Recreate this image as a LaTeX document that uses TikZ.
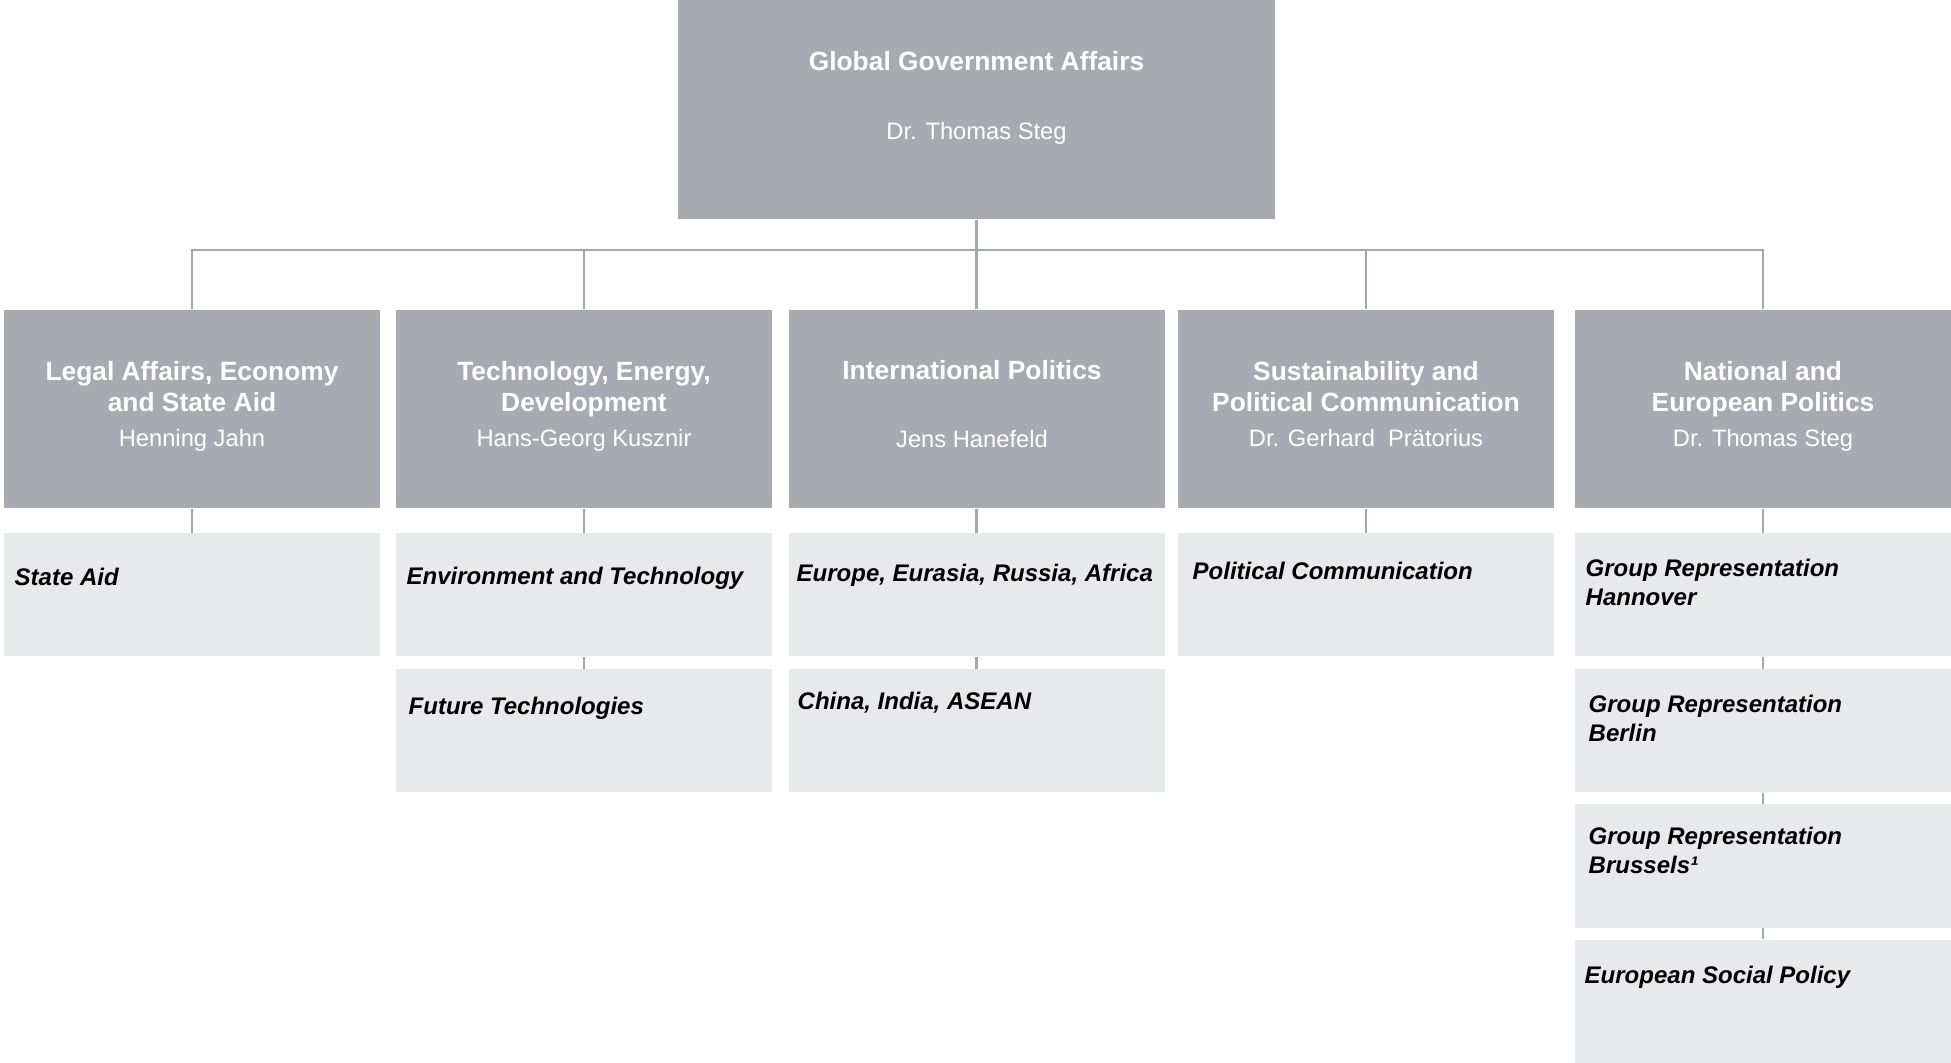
\documentclass[tikz,border=0pt]{standalone}
\usepackage{fontspec}
\setmainfont{Liberation Sans}
\definecolor{headgray}{HTML}{A7AAB0}
\definecolor{unitgray}{HTML}{E8E9EB}
\definecolor{linegray}{HTML}{A3A6AC}

\begin{document}
\begin{tikzpicture}[
    head/.style={fill=headgray, minimum width=3.76cm, minimum height=1.98cm, inner sep=0pt},
    unit/.style={fill=unitgray, minimum width=3.76cm, minimum height=1.23cm, inner sep=0pt},
    headtitle/.style={anchor=north, align=center, text=white, inner sep=0pt, font=\fontsize{7.5}{8.8}\selectfont\bfseries},
    headname/.style={anchor=north, text=white, inner sep=0pt, font=\fontsize{6.75}{8}\selectfont},
    unittext/.style={anchor=north west, align=left, inner sep=0pt, font=\fontsize{6.83}{8.4}\selectfont\bfseries\itshape},
    link/.style={draw=linegray, line width=0.6pt}
]
    \useasboundingbox (0,0) rectangle (19.51,-10.63);

    \node[head, minimum width=5.97cm, minimum height=2.19cm] (gga) at (9.765,-1.095) {};
    \node[headtitle] (gga-title) at (9.765,-0.51) {Global Government Affairs};
    \node[headname] (gga-name) at (9.765,-1.22) {Dr. Thomas Steg};

    \node[head] (legal) at (1.92,-4.09) {};
    \node[headtitle] (legal-title) at (1.92,-3.61) {Legal Affairs, Economy\\and State Aid};
    \node[headname] (legal-name) at (1.92,-4.29) {Henning Jahn};

    \node[head] (tech) at (5.84,-4.09) {};
    \node[headtitle] (tech-title) at (5.84,-3.61) {Technology, Energy,\\Development};
    \node[headname] (tech-name) at (5.84,-4.29) {Hans-Georg Kusznir};

    \node[head] (intl) at (9.765,-4.09) {};
    \node[headtitle] (intl-title) at (9.72,-3.60) {International Politics};
    \node[headname] (intl-name) at (9.72,-4.30) {Jens Hanefeld};

    \node[head] (sust) at (13.66,-4.09) {};
    \node[headtitle] (sust-title) at (13.66,-3.61) {Sustainability and\\Political Communication};
    \node[headname] (sust-name) at (13.66,-4.29) {Dr. Gerhard\ \ Prätorius};

    \node[head] (natl) at (17.63,-4.09) {};
    \node[headtitle] (natl-title) at (17.63,-3.61) {National and\\European Politics};
    \node[headname] (natl-name) at (17.63,-4.29) {Dr. Thomas Steg};

    \node[unit] (stateaid) at (1.92,-5.95) {};
    \node[unittext] (stateaid-text) at (0.14,-5.67) {State Aid};

    \node[unit] (envtech) at (5.84,-5.95) {};
    \node[unittext] (envtech-text) at (4.06,-5.66) {Environment and Technology};
    \node[unit] (futtech) at (5.84,-7.31) {};
    \node[unittext] (futtech-text) at (4.08,-6.96) {Future Technologies};

    \node[unit] (europe) at (9.765,-5.95) {};
    \node[unittext] (europe-text) at (7.96,-5.63) {Europe, Eurasia, Russia, Africa};
    \node[unit] (china) at (9.765,-7.31) {};
    \node[unittext] (china-text) at (7.97,-6.91) {China, India, ASEAN};

    \node[unit] (polcomm) at (13.66,-5.95) {};
    \node[unittext] (polcomm-text) at (11.92,-5.61) {Political Communication};

    \node[unit] (hannover) at (17.63,-5.95) {};
    \node[unittext] (hannover-text) at (15.85,-5.58) {Group Representation\\Hannover};
    \node[unit] (berlin) at (17.63,-7.31) {};
    \node[unittext] (berlin-text) at (15.88,-6.94) {Group Representation\\Berlin};
    \node[unit] (brussels) at (17.63,-8.66) {};
    \node[unittext] (brussels-text) at (15.88,-8.26) {Group Representation\\Brussels¹};
    \node[unit] (socpol) at (17.63,-10.015) {};
    \node[unittext] (socpol-text) at (15.84,-9.65) {European Social Policy};

    \draw[link] (gga.south) -- ++(0,-0.30) -| (legal.north);
    \draw[link] (gga.south) -- ++(0,-0.30) -| (tech.north);
    \draw[link] (gga.south) -- ++(0,-0.30) -| (intl.north);
    \draw[link] (gga.south) -- ++(0,-0.30) -| (sust.north);
    \draw[link] (gga.south) -- ++(0,-0.30) -| (natl.north);

    \draw[link] (legal.south) -- (stateaid.north);
    \draw[link] (tech.south) -- (envtech.north);
    \draw[link] (envtech.south) -- (futtech.north);
    \draw[link] (intl.south) -- (europe.north);
    \draw[link] (europe.south) -- (china.north);
    \draw[link] (sust.south) -- (polcomm.north);
    \draw[link] (natl.south) -- (hannover.north);
    \draw[link] (hannover.south) -- (berlin.north);
    \draw[link] (berlin.south) -- (brussels.north);
    \draw[link] (brussels.south) -- (socpol.north);

\end{tikzpicture}
\end{document}
